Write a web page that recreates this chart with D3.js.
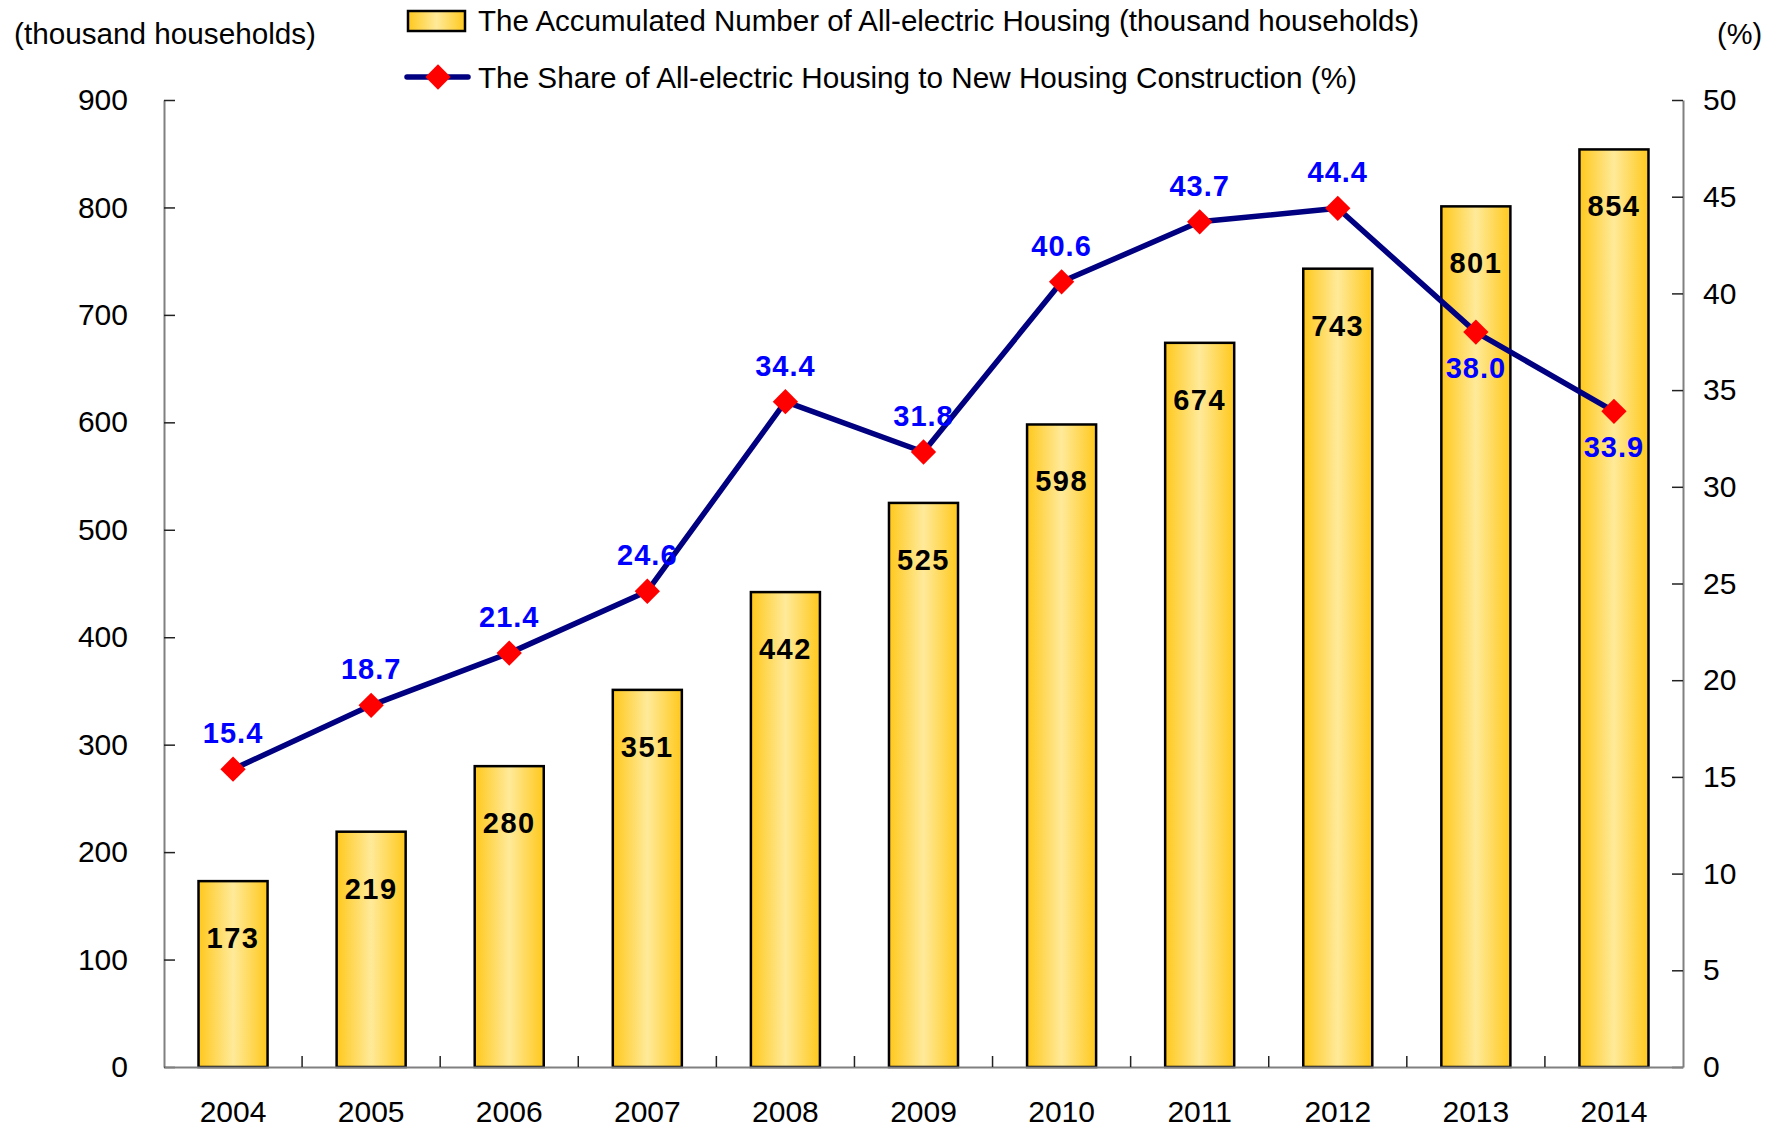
<!DOCTYPE html>
<html>
<head>
<meta charset="utf-8">
<script src="https://cdn.jsdelivr.net/npm/d3@7"></script>
<style>
	body { margin: 0; background: #fff; }
	text { font-family: "Liberation Sans", Arial, sans-serif; }
</style>
</head>
<body>
<script>
// chart data
var years = ["2004","2005","2006","2007","2008","2009","2010","2011","2012","2013","2014"];
var households = [173, 219, 280, 351, 442, 525, 598, 674, 743, 801, 854];
var share = [15.4, 18.7, 21.4, 24.6, 34.4, 31.8, 40.6, 43.7, 44.4, 38.0, 33.9];
var leftTicks = [0, 100, 200, 300, 400, 500, 600, 700, 800, 900];
var rightTicks = [0, 5, 10, 15, 20, 25, 30, 35, 40, 45, 50];
var labelBelow = ["2013", "2014"];

var w = 1783;
var h = 1128;
// plot edges (note: "top" is taken by window.top)
var plotL = 164, plotR = 1683, plotT = 100, plotB = 1067;

var svg = d3.select("body")
	.append("svg")
	.attr("width", w)
	.attr("height", h);

// gold bar gradient
var grad = svg.append("defs").append("linearGradient")
	.attr("id", "gold")
	.attr("x1", "0%").attr("x2", "100%").attr("y1", "0%").attr("y2", "0%");
grad.append("stop").attr("offset", "0%").attr("stop-color", "#FFC81C");
grad.append("stop").attr("offset", "50%").attr("stop-color", "#FFEA9A");
grad.append("stop").attr("offset", "100%").attr("stop-color", "#FFC81C");

var x = d3.scaleBand().domain(years).range([plotL, plotR]).paddingInner(0.5).paddingOuter(0.25);
var yL = d3.scaleLinear().domain([0, 900]).range([plotB, plotT]);
var yR = d3.scaleLinear().domain([0, 50]).range([plotB, plotT]);

var rows = years.map(function(y, i){
	return {year: y, n: households[i], s: share[i]};
});

// bars
svg.selectAll("rect.bar")
	.data(rows)
	.enter()
	.append("rect")
	.attr("class", "bar")
	.attr("x", function(d){ return x(d.year); })
	.attr("y", function(d){ return yL(d.n); })
	.attr("width", x.bandwidth())
	.attr("height", function(d){ return plotB - yL(d.n); })
	.attr("fill", "url(#gold)")
	.attr("stroke", "#000")
	.attr("stroke-width", 2.5);

// axes
var axL = svg.append("g")
	.attr("transform", "translate(" + plotL + ",0)")
	.call(d3.axisLeft(yL).tickValues(leftTicks).tickSize(-11).tickPadding(36).tickSizeOuter(0));
var axR = svg.append("g")
	.attr("transform", "translate(" + plotR + ",0)")
	.call(d3.axisRight(yR).tickValues(rightTicks).tickSize(-11).tickPadding(20).tickSizeOuter(0));
var axB = svg.append("g")
	.attr("transform", "translate(0," + plotB + ")")
	.call(d3.axisBottom(x).tickSize(0).tickPadding(34).tickSizeOuter(0));

[axL, axR, axB].forEach(function(ax){
	ax.select(".domain").attr("stroke", "#808080").attr("stroke-width", 2);
	ax.selectAll(".tick line").attr("stroke", "#222").attr("stroke-width", 1.5);
	ax.selectAll(".tick text")
		.attr("fill", "#000")
		.style("font-size", "30px");
});

// category dividers on the x axis
var dividers = years.slice(1);
svg.selectAll("line.div")
	.data(dividers)
	.enter()
	.append("line")
	.attr("class", "div")
	.attr("x1", function(d){ return x(d) - x.step() * x.paddingInner() / 2; })
	.attr("x2", function(d){ return x(d) - x.step() * x.paddingInner() / 2; })
	.attr("y1", plotB)
	.attr("y2", plotB - 11)
	.attr("stroke", "#222")
	.attr("stroke-width", 1.5);

// bar labels
svg.selectAll("text.barlab")
	.data(rows)
	.enter()
	.append("text")
	.attr("class", "barlab")
	.attr("x", function(d){ return x(d.year) + x.bandwidth() / 2; })
	.attr("y", function(d){ return yL(d.n) + 67; })
	.attr("text-anchor", "middle")
	.style("font-size", "29px")
	.style("font-weight", "bold")
	.style("letter-spacing", "1.5px")
	.text(function(d){ return d.n; });

// share line
var line = d3.line()
	.x(function(d){ return x(d.year) + x.bandwidth() / 2; })
	.y(function(d){ return yR(d.s); });

svg.append("path")
	.datum(rows)
	.attr("d", line)
	.attr("fill", "none")
	.attr("stroke", "#000080")
	.attr("stroke-width", 5.5)
	.attr("stroke-linejoin", "round");

var diamond = d3.symbol().type(d3.symbolSquare).size(320);
svg.selectAll("path.mark")
	.data(rows)
	.enter()
	.append("path")
	.attr("class", "mark")
	.attr("d", diamond)
	.attr("transform", function(d){
		return "translate(" + (x(d.year) + x.bandwidth() / 2) + "," + yR(d.s) + ") rotate(45)";
	})
	.attr("fill", "#FF0000");

svg.selectAll("text.sharelab")
	.data(rows)
	.enter()
	.append("text")
	.attr("class", "sharelab")
	.attr("x", function(d){ return x(d.year) + x.bandwidth() / 2; })
	.attr("y", function(d){
		if (labelBelow.indexOf(d.year) >= 0) return yR(d.s) + 46;
		return yR(d.s) - 26;
	})
	.attr("text-anchor", "middle")
	.attr("fill", "#0000FF")
	.style("font-size", "29px")
	.style("font-weight", "bold")
	.style("letter-spacing", "1px")
	.text(function(d){ return d.s.toFixed(1); });

// axis unit titles
svg.append("text")
	.attr("x", 14).attr("y", 44)
	.attr("textLength", 302).attr("lengthAdjust", "spacingAndGlyphs")
	.style("font-size", "29px")
	.text("(thousand households)");
svg.append("text")
	.attr("x", 1717).attr("y", 44)
	.style("font-size", "29px")
	.text("(%)");

// legend
svg.append("rect")
	.attr("x", 408).attr("y", 11)
	.attr("width", 57).attr("height", 20)
	.attr("fill", "url(#gold)")
	.attr("stroke", "#000")
	.attr("stroke-width", 2.5);
svg.append("text")
	.attr("x", 478).attr("y", 31)
	.attr("textLength", 941).attr("lengthAdjust", "spacingAndGlyphs")
	.style("font-size", "29px")
	.text("The Accumulated Number of All-electric Housing (thousand households)");

svg.append("line")
	.attr("x1", 407).attr("x2", 468)
	.attr("y1", 77).attr("y2", 77)
	.attr("stroke", "#000080")
	.attr("stroke-width", 5.5)
	.attr("stroke-linecap", "round");
svg.append("path")
	.attr("d", diamond)
	.attr("transform", "translate(438,77) rotate(45)")
	.attr("fill", "#FF0000");
svg.append("text")
	.attr("x", 478).attr("y", 88)
	.attr("textLength", 879).attr("lengthAdjust", "spacingAndGlyphs")
	.style("font-size", "29px")
	.text("The Share of All-electric Housing to New Housing Construction (%)");
</script>
</body>
</html>
